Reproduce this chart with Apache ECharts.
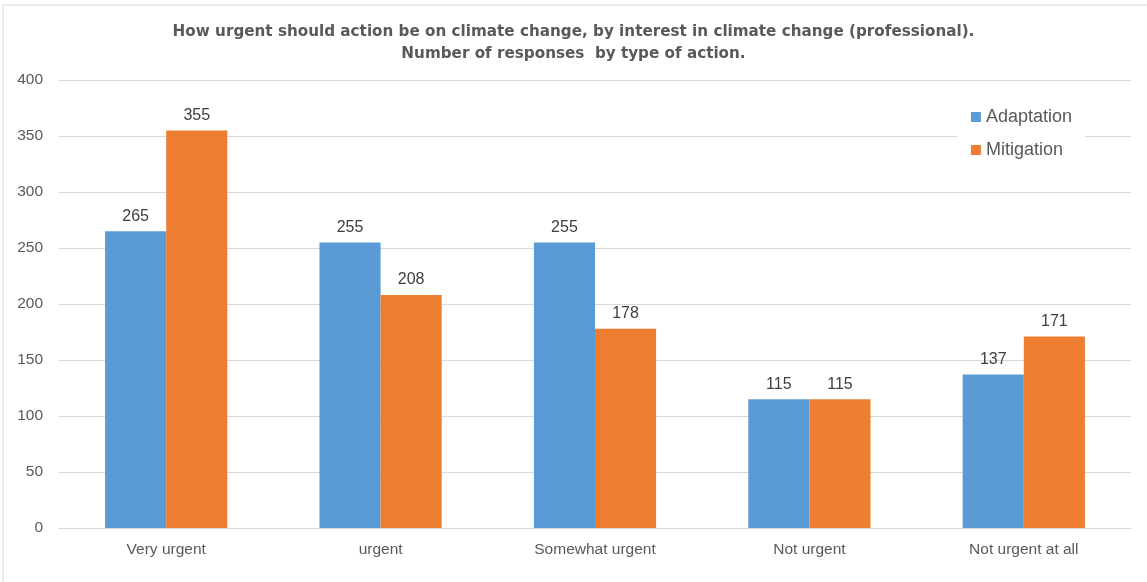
<!DOCTYPE html>
<html>
<head>
<meta charset="utf-8">
<style>
  html, body { margin: 0; padding: 0; background: #fff; }
  #chart { width: 1147px; height: 582px; }
</style>
<script src="https://cdn.jsdelivr.net/npm/echarts@6/dist/echarts.min.js"></script>
</head>
<body>
<div id="chart"></div>
<script>
const categories = ['Very urgent', 'urgent', 'Somewhat urgent', 'Not urgent', 'Not urgent at all'];
const adaptation = [265, 255, 255, 115, 137];
const mitigation = [355, 208, 178, 115, 171];
const yTicks = { min: 0, max: 400, interval: 50 };

const textColor = '#595959';
const labelColor = '#404040';
const gridColor = '#d9d9d9';
const fontFamily = '"Liberation Sans", Arial, sans-serif';

const chart = echarts.init(document.getElementById('chart'));

const barLabel = {
    show: true,
    position: 'top',
    distance: 7,
    color: labelColor,
    fontSize: 16,
    fontFamily: fontFamily
};

chart.setOption({
    animation: false,
    backgroundColor: '#fff',
    textStyle: { fontFamily: fontFamily },
    graphic: [{
        type: 'rect',
        silent: true,
        z: -10,
        shape: { x: 3, y: 5, width: 1170, height: 600 },
        style: { fill: 'none', stroke: gridColor, lineWidth: 1 }
    }],
    title: {
        text: 'How urgent should action be on climate change, by interest in climate change (professional).\nNumber of responses  by type of action.',
        left: 'center',
        top: 16,
        textStyle: {
            color: textColor,
            fontSize: 15.2,
            fontWeight: 'bold',
            lineHeight: 22,
            fontFamily: '"DejaVu Sans", sans-serif'
        }
    },
    legend: {
        orient: 'vertical',
        right: 62,
        top: 104,
        itemWidth: 10,
        itemHeight: 10,
        itemGap: 15,
        icon: 'rect',
        backgroundColor: '#fff',
        padding: [4, 13, 4, 14],
        z: 10,
        textStyle: { color: textColor, fontSize: 18, fontFamily: fontFamily },
        data: ['Adaptation', 'Mitigation']
    },
    grid: {
        left: 59,
        right: 16,
        top: 80,
        bottom: 54,
        containLabel: false
    },
    xAxis: {
        type: 'category',
        data: categories,
        axisLine: { show: true, lineStyle: { color: gridColor } },
        axisTick: { show: false },
        axisLabel: { color: textColor, fontSize: 15.5, margin: 14, fontFamily: fontFamily }
    },
    yAxis: {
        type: 'value',
        min: yTicks.min,
        max: yTicks.max,
        interval: yTicks.interval,
        axisLine: { show: false },
        axisTick: { show: false },
        axisLabel: { color: textColor, fontSize: 15.5, margin: 16, fontFamily: fontFamily },
        splitLine: { lineStyle: { color: gridColor, width: 1 } }
    },
    series: [
        {
            name: 'Adaptation',
            type: 'bar',
            data: adaptation,
            barGap: '0%',
            barCategoryGap: '43%',
            itemStyle: { color: '#5b9bd5' },
            label: barLabel
        },
        {
            name: 'Mitigation',
            type: 'bar',
            data: mitigation,
            itemStyle: { color: '#ed7d31' },
            label: barLabel
        }
    ]
});
</script>
</body>
</html>
